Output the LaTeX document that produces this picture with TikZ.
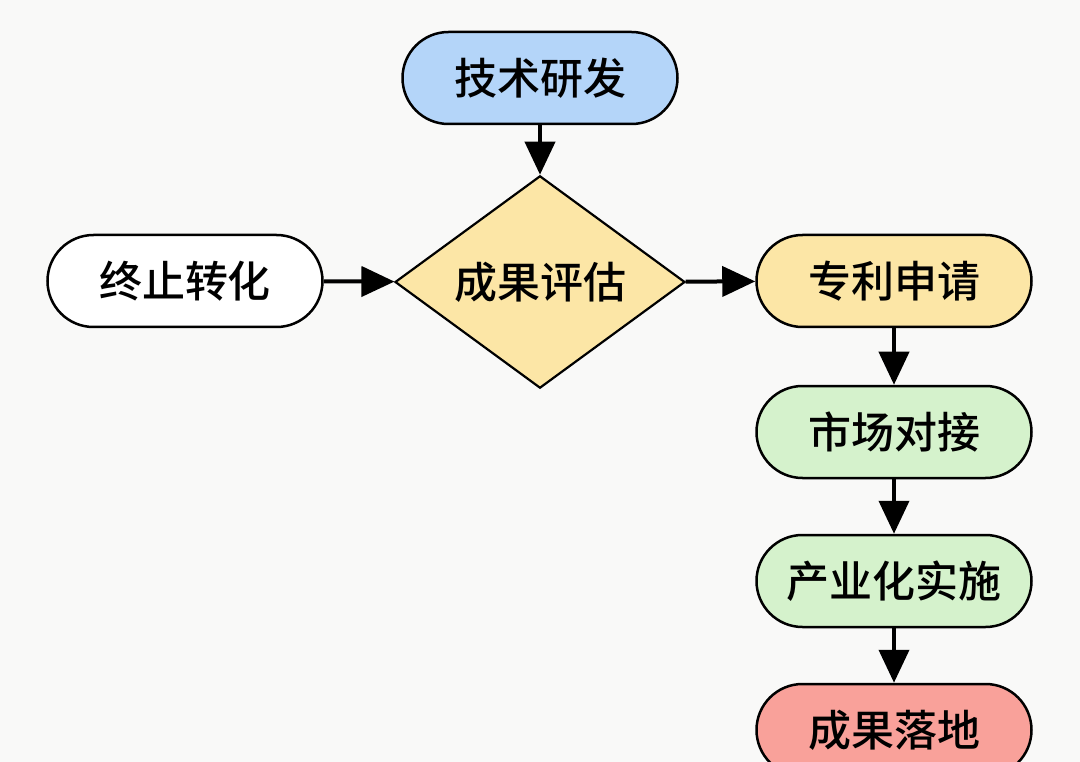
\documentclass[tikz,border=0pt]{standalone}
\usepackage{fontspec}
\setmainfont{Noto Sans CJK SC}[BoldFont={Noto Sans CJK SC Medium}]
\usetikzlibrary{shapes.geometric,arrows.meta}
\definecolor{bgc}{HTML}{F9F9F8}
\definecolor{bluef}{HTML}{B4D5F9}
\definecolor{yellowf}{HTML}{FCE6A6}
\definecolor{greenf}{HTML}{D5F2CC}
\definecolor{redf}{HTML}{F9A19A}
\tikzset{
  box/.style={draw=black, line width=2.5pt, rounded corners=46pt, minimum width=275pt, minimum height=92pt, inner sep=0pt, font=\fontsize{43}{50}\selectfont\bfseries},
  decide/.style={draw=black, line width=2.2pt, diamond, minimum width=290pt, minimum height=203pt, inner sep=0pt, fill=yellowf, font=\fontsize{43}{50}\selectfont\bfseries},
  conn/.style={line width=4pt, -{Triangle[length=33pt,width=30pt]}}
}
\begin{document}
\begin{tikzpicture}[x=1pt,y=1pt]
\fill[bgc] (0,0) rectangle (1080,-762);
\useasboundingbox (0,0) rectangle (1080,-762);
\node[box, fill=bluef] (rd) at (540,-78) {技术研发};
\node[decide] (ev) at (540,-282) {成果评估};
\node[box, fill=white] (stop) at (185,-281) {终止转化};
\node[box, fill=yellowf] (pat) at (894,-281) {专利申请};
\node[box, fill=greenf] (mkt) at (894,-432) {市场对接};
\node[box, fill=greenf] (ind) at (894,-581) {产业化实施};
\node[box, fill=redf] (land) at (894,-730) {成果落地};
\draw[conn] (rd) -- (ev);
\draw[conn] (stop) -- (ev);
\draw[conn] (ev) -- (pat);
\draw[conn] (pat) -- (mkt);
\draw[conn] (mkt) -- (ind);
\draw[conn] (ind) -- (land);
\end{tikzpicture}
\end{document}
